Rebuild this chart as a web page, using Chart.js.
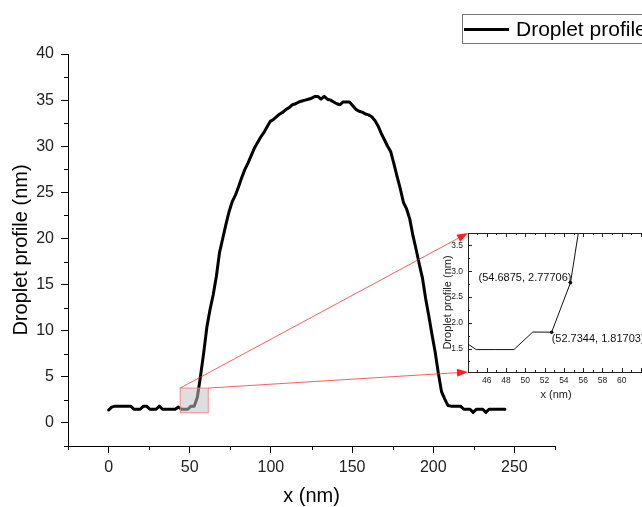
<!DOCTYPE html>
<html><head><meta charset="utf-8">
<script src="https://cdn.jsdelivr.net/npm/chart.js@4.4.1/dist/chart.umd.min.js"></script>
<style>
html,body{margin:0;padding:0;background:#fff;overflow:hidden;width:642px;height:507px}
#wrap{position:relative;width:642px;height:507px;overflow:hidden;background:#fff}
#main{position:absolute;left:0;top:0}
#inset{position:absolute;left:420px;top:215px}
</style></head><body>
<div id="wrap"><canvas id="main" width="642" height="507"></canvas><canvas id="inset" width="228" height="196"></canvas></div>
<script>
// ---- data ----
const xValues = [0,1.9531,3.9063,5.8594,7.8125,9.7656,11.7188,13.6719,15.625,17.5781,
19.5313,21.4844,23.4375,25.3906,27.3438,29.2969,31.25,33.2031,35.1563,37.1094,
39.0625,41.0156,42.9688,44.9219,46.875,48.8281,50.7813,52.7344,54.6875,56.6406,
58.5938,60.5469,62.5,64.4531,66.4063,68.3594,70.3125,72.2656,74.2188,76.1719,
78.125,80.0781,82.0313,83.9844,85.9375,87.8906,89.8438,91.7969,93.75,95.7031,
97.6563,99.6094,101.5625,103.5156,105.4688,107.4219,109.375,111.3281,113.2813,115.2344,
117.1875,119.1406,121.0938,123.0469,125,126.9531,128.9063,130.8594,132.8125,134.7656,
136.7188,138.6719,140.625,142.5781,144.5313,146.4844,148.4375,150.3906,152.3438,154.2969,
156.25,158.2031,160.1563,162.1094,164.0625,166.0156,167.9688,169.9219,171.875,173.8281,
175.7813,177.7344,179.6875,181.6406,183.5938,185.5469,187.5,189.4531,191.4063,193.3594,
195.3125,197.2656,199.2188,201.1719,203.125,205.0781,207.0313,208.9844,210.9375,212.8906,
214.8438,216.7969,218.75,220.7031,222.6563,224.6094,226.5625,228.5156,230.4688,232.4219,
234.375,236.3281,238.2813,240.2344,242.1875,244.1406];
const profile = [1.40,1.72,1.82,1.82,1.82,1.82,1.82,1.82,1.48,1.48,
1.48,1.82,1.82,1.48,1.48,1.48,1.82,1.48,1.48,1.48,
1.48,1.48,1.72,1.48,1.48,1.48,1.82,1.81703,2.77706,5.1,
7.6,10.4,12.3,13.9,15.9,18.5,20.0,21.5,22.9,24.0,
24.7,25.6,26.6,27.5,28.2,29.0,29.8,30.4,31.0,31.5,
32.1,32.7,32.9,33.2,33.5,33.7,34.0,34.2,34.5,34.6,
34.8,34.9,35.0,35.1,35.2,35.4,35.4,35.1,35.4,35.1,
35.0,34.8,34.6,34.5,34.8,34.8,34.8,34.4,34.0,33.8,
33.7,33.5,33.4,33.2,32.8,32.2,31.4,30.7,30.0,29.4,
28.1,26.7,25.4,23.9,23.2,22.1,20.3,18.8,17.2,15.7,
13.5,11.6,9.6,7.7,5.4,3.4,2.6,1.9,1.82,1.82,
1.82,1.82,1.48,1.48,1.48,1.14,1.48,1.48,1.48,1.14,
1.48,1.48,1.48,1.48,1.48,1.48];
const xTickLabels = [0,50,100,150,200,250];
const yTickLabels = [0,5,10,15,20,25,30,35,40];
const insetXTickLabels = [46,48,50,52,54,56,58,60];
const insetYTickLabels = [1.5,2.0,2.5,3.0,3.5];
const annotatedX = [54.6875,52.7344];
const annotatedY = [2.77706,1.81703];
const annotatedText = ['(54.6875, 2.77706)','(52.7344, 1.81703)'];
const seriesName = 'Droplet profile';
// zoom region (data units) and inset axis ranges
const zoomX = [44.1,61.4], zoomY = [1.1,3.78];
const insetXRange = [44.07,62.3], insetYRange = [1.045,3.74];

const FONT = "'Liberation Sans', Arial, Helvetica, sans-serif";
Chart.defaults.font.family = FONT;
Chart.defaults.color = '#222';
const points = xValues.map((x,i)=>({x:x,y:profile[i]}));
const near = (v,arr)=>arr.some(a=>Math.abs(a-v)<1e-6);

// ---- inset ----
const insetPlugin = {
  id:'insetDeco',
  afterDraw(chart){
    const {ctx, chartArea:a, scales:{x,y}} = chart;
    ctx.save();
    ctx.strokeStyle='#222'; ctx.lineWidth=1;
    ctx.beginPath();
    ctx.moveTo(a.left, a.top+0.5); ctx.lineTo(a.right, a.top+0.5);
    for(let v=Math.ceil(x.min); v<=x.max; v++){
      const px=Math.round(x.getPixelForValue(v))+0.5;
      const len = v%2===0?4:2;
      ctx.moveTo(px,a.bottom); ctx.lineTo(px,a.bottom-len);
      ctx.moveTo(px,a.top); ctx.lineTo(px,a.top+len);
    }
    for(let k=Math.ceil(y.min*4); k<=y.max*4; k++){
      const py=Math.round(y.getPixelForValue(k/4))+0.5;
      const len = k%2===0?4:2;
      ctx.moveTo(a.left,py); ctx.lineTo(a.left+len,py);
    }
    ctx.stroke();
    ctx.font = "11px "+FONT; ctx.fillStyle='#111';
    annotatedX.forEach((vx,i)=>{
      const px=x.getPixelForValue(vx), py=y.getPixelForValue(annotatedY[i]);
      ctx.beginPath(); ctx.arc(px,py,1.8,0,Math.PI*2); ctx.fill();
      if(i===0){ ctx.textAlign='right'; ctx.textBaseline='alphabetic'; ctx.fillText(annotatedText[i], px+1, py-2); }
      else { ctx.textAlign='left'; ctx.textBaseline='top'; ctx.fillText(annotatedText[i], px, py+1); }
    });
    ctx.restore();
  }
};
const inset = new Chart(document.getElementById('inset'), {
  type:'line',
  data:{datasets:[{data:points, borderColor:'#111', borderWidth:1, pointRadius:0, tension:0, fill:false}]},
  options:{
    responsive:false, animation:false, devicePixelRatio:1,
    layout:{padding:{left:0,top:18,right:4,bottom:0}},
    plugins:{legend:{display:false}, tooltip:{enabled:false}},
    scales:{
      x:{type:'linear', min:insetXRange[0], max:insetXRange[1], afterFit(s){s.height=39;},
        border:{display:true,color:'#222',width:1}, grid:{display:false, drawTicks:false},
        ticks:{stepSize:2, includeBounds:false, autoSkip:false, maxRotation:0, padding:4, font:{size:8.5}, color:'#222',
          callback:v=>near(v,insetXTickLabels)?String(Math.round(v)):''},
        title:{display:true, text:'x (nm)', font:{size:11,lineHeight:1}, color:'#222', padding:{top:0,bottom:10.5}}},
      y:{type:'linear', min:insetYRange[0], max:insetYRange[1], afterFit(s){s.width=48;},
        border:{display:true,color:'#222',width:1}, grid:{display:false, drawTicks:false},
        ticks:{stepSize:0.5, includeBounds:false, autoSkip:false, padding:5, font:{size:8.5}, color:'#222',
          callback:v=>near(v,insetYTickLabels)?Number(v).toFixed(1):''},
        title:{display:true, text:'Droplet profile (nm)', font:{size:11,lineHeight:1}, color:'#222', padding:{top:22,bottom:0}}}
    }
  },
  plugins:[insetPlugin]
});

// ---- main ----
const insetEl = document.getElementById('inset');
const insetOffX = parseFloat(getComputedStyle(insetEl).left), insetOffY = parseFloat(getComputedStyle(insetEl).top);
function arrow(ctx,x0,y0,x1,y1){
  const ang=Math.atan2(y1-y0,x1-x0), L=11, W=4;
  const bx=x1-L*Math.cos(ang), by=y1-L*Math.sin(ang);
  ctx.strokeStyle='rgba(255,40,40,0.75)'; ctx.lineWidth=1;
  ctx.beginPath(); ctx.moveTo(x0,y0); ctx.lineTo(bx,by); ctx.stroke();
  ctx.fillStyle='#ff2020';
  ctx.beginPath(); ctx.moveTo(x1,y1);
  ctx.lineTo(bx+W*Math.sin(ang), by-W*Math.cos(ang));
  ctx.lineTo(bx-W*Math.sin(ang), by+W*Math.cos(ang));
  ctx.closePath(); ctx.fill();
}
const mainPlugin = {
  id:'mainDeco',
  afterDatasetsDraw(chart){
    const {ctx, scales:{x,y}} = chart;
    ctx.save();
    const l=x.getPixelForValue(zoomX[0]), r=x.getPixelForValue(zoomX[1]);
    const t=y.getPixelForValue(zoomY[1]), b=y.getPixelForValue(zoomY[0]);
    ctx.fillStyle='rgba(195,195,195,0.55)';
    ctx.fillRect(l,t,r-l,b-t);
    ctx.strokeStyle='rgba(245,130,130,0.9)'; ctx.lineWidth=1;
    ctx.strokeRect(l,t,r-l,b-t);
    const ia = inset.chartArea;
    arrow(ctx, l, t, insetOffX+ia.left, insetOffY+ia.top);
    arrow(ctx, r, t, insetOffX+ia.left, insetOffY+ia.bottom);
    ctx.restore();
  },
  afterDraw(chart){
    const {ctx, chartArea:a, scales:{x,y}} = chart;
    ctx.save();
    ctx.strokeStyle='#000'; ctx.lineWidth=1;
    ctx.beginPath();
    x.ticks.forEach(tk=>{ if(!near(tk.value,xTickLabels)){ const px=Math.round(x.getPixelForValue(tk.value))+0.5; ctx.moveTo(px,a.bottom); ctx.lineTo(px,a.bottom+4);} });
    y.ticks.forEach(tk=>{ if(!near(tk.value,yTickLabels)){ const py=Math.round(y.getPixelForValue(tk.value))+0.5; ctx.moveTo(a.left,py); ctx.lineTo(a.left-4,py);} });
    ctx.stroke();
    // legend
    ctx.strokeStyle='#777'; ctx.lineWidth=1;
    ctx.strokeRect(462.5,14.5,200,29);
    ctx.strokeStyle='#000'; ctx.lineWidth=3;
    ctx.beginPath(); ctx.moveTo(464,29.5); ctx.lineTo(509,29.5); ctx.stroke();
    ctx.fillStyle='#000'; ctx.font='21px '+FONT; ctx.textAlign='left'; ctx.textBaseline='alphabetic';
    ctx.fillText(seriesName, 516, 36);
    ctx.restore();
  }
};
new Chart(document.getElementById('main'), {
  type:'line',
  data:{datasets:[{label:seriesName, data:points, borderColor:'#000', borderWidth:3, pointRadius:0, tension:0, fill:false, borderJoinStyle:'round', borderCapStyle:'round'}]},
  options:{
    responsive:false, animation:false, devicePixelRatio:1,
    layout:{padding:{left:0,top:54,right:87,bottom:0}},
    plugins:{legend:{display:false}, tooltip:{enabled:false}},
    scales:{
      x:{type:'linear', min:-25, max:275, afterFit(s){s.height=61;},
        border:{display:true,color:'#000',width:1},
        grid:{drawOnChartArea:false, drawTicks:true, tickLength:7, tickWidth:1,
          tickColor:c=>near(c.tick.value,xTickLabels)?'#000':'rgba(0,0,0,0)'},
        ticks:{stepSize:25, autoSkip:false, maxRotation:0, padding:5, font:{size:16}, color:'#222',
          callback:v=>near(v,xTickLabels)?String(Math.round(v)):''},
        title:{display:true, text:'x (nm)', font:{size:20,lineHeight:1}, color:'#000', padding:{top:0,bottom:0.5}}},
      y:{type:'linear', min:-2.5, max:40, afterFit(s){s.width=68;},
        border:{display:true,color:'#000',width:1},
        grid:{drawOnChartArea:false, drawTicks:true, tickLength:7, tickWidth:1,
          tickColor:c=>near(c.tick.value,yTickLabels)?'#000':'rgba(0,0,0,0)'},
        ticks:{stepSize:2.5, autoSkip:false, padding:7, font:{size:16}, color:'#222',
          callback:v=>near(v,yTickLabels)?String(Math.round(v)):''},
        title:{display:true, text:'Droplet profile (nm)', font:{size:20,lineHeight:1}, color:'#000', padding:{top:11,bottom:0}}}
    }
  },
  plugins:[mainPlugin]
});
</script>
</body></html>
